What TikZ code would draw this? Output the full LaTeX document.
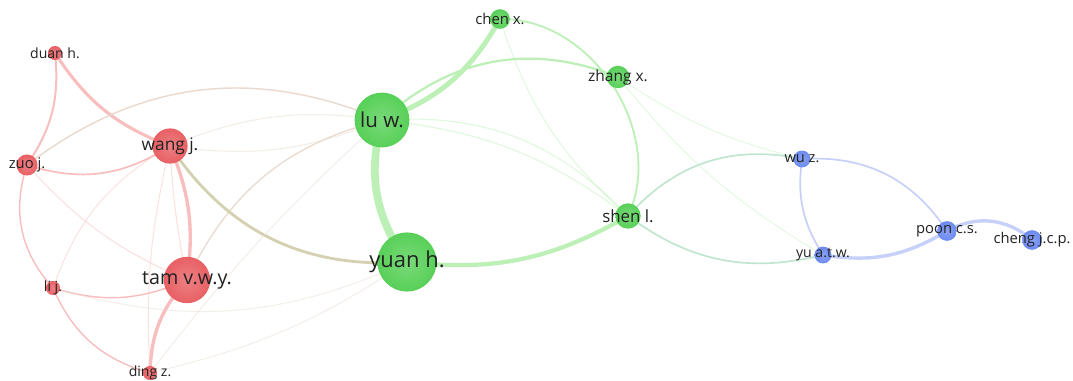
\documentclass[tikz,border=0pt]{standalone}
\usepackage{fontspec}
\setmainfont{Open Sans}
\definecolor{nodered}{RGB}{232,96,100}
\definecolor{nodegreen}{RGB}{88,208,88}
\definecolor{nodeblue}{RGB}{108,138,240}
\definecolor{edgered}{RGB}{248,190,190}
\definecolor{edgegreen}{RGB}{188,240,182}
\definecolor{edgeblue}{RGB}{198,208,248}
\definecolor{edgemix}{RGB}{232,218,206}
\definecolor{edgeolive}{RGB}{212,208,176}
\definecolor{edgeteal}{RGB}{192,230,208}
\definecolor{labelgrey}{RGB}{34,34,34}
\tikzset{
  author/.style={circle, inner sep=0pt, minimum size=#1},
  redauthor/.style={author=#1, shading=radial, inner color=nodered!80!white, outer color=nodered},
  greenauthor/.style={author=#1, shading=radial, inner color=nodegreen!80!white, outer color=nodegreen},
  blueauthor/.style={author=#1, shading=radial, inner color=nodeblue!80!white, outer color=nodeblue},
  lbl/.style={font=\fontsize{#1}{#1}\selectfont, text=labelgrey, inner sep=0pt},
  redlink/.style={draw=edgered, line width=#1},
  greenlink/.style={draw=edgegreen, line width=#1},
  bluelink/.style={draw=edgeblue, line width=#1},
  mixlink/.style={draw=edgemix, line width=#1},
  teallink/.style={draw=edgeteal, line width=#1},
  faint/.style={draw opacity=0.45}
}

\begin{document}
\begin{tikzpicture}[x=0.025cm, y=-0.025cm]
    \fill[white] (0,0) rectangle (1073,381);
    \useasboundingbox (0,0) rectangle (1073,381);

    % Define coordinates
    \coordinate (duan) at (55,53);
    \coordinate (wang) at (170,146);
    \coordinate (zuo) at (27,165);
    \coordinate (li) at (53,288);
    \coordinate (tam) at (187,280);
    \coordinate (ding) at (150,373);
    \coordinate (lu) at (382,120);
    \coordinate (yuan) at (407,262);
    \coordinate (chen) at (500,19);
    \coordinate (zhang) at (618,77);
    \coordinate (shen) at (628,216);
    \coordinate (wu) at (802,159);
    \coordinate (yu) at (823,255);
    \coordinate (poon) at (947,231);
    \coordinate (cheng) at (1032,240);

    % Red cluster links
    \draw[redlink=2.2] (duan) to[bend right=18] (wang);
    \draw[redlink=1.4] (duan) to[bend left=20] (zuo);
    \draw[redlink=1.2] (zuo) to[bend right=25] (wang);
    \draw[redlink=1.0] (zuo) to[bend right=30] (li);
    \draw[redlink=1.0] (li) to[bend right=25] (ding);
    \draw[redlink=2.4] (wang) to[bend left=15] (tam);
    \draw[redlink=0.8, faint] (wang) to[bend right=4] (tam);
    \draw[redlink=2.4] (tam) to[bend right=20] (ding);
    \draw[redlink=1.0] (li) to[bend right=20] (tam);
    \draw[redlink=0.8, faint] (zuo) to[bend right=12] (tam);
    \draw[redlink=0.7, faint] (li) to[bend left=20] (wang);
    \draw[redlink=0.7, faint] (wang) to[bend right=8] (ding);

    % Links between red and green
    \draw[mixlink=1.0] (zuo) to[bend left=30] (lu);
    \draw[mixlink=0.8, faint] (wang) to[bend left=15] (lu);
    \draw[mixlink=0.8, faint] (wang) to[bend right=15] (lu);
    \draw[mixlink=0.9] (tam) to[bend left=25] (lu);
    \draw[mixlink=2.0, draw=edgeolive] (wang) to[bend right=30] (yuan);
    \draw[mixlink=0.7, faint] (li) to[bend right=20] (yuan);
    \draw[mixlink=0.7, faint] (ding) to[bend right=10] (yuan);
    \draw[mixlink=0.7, faint] (ding) to[bend left=5] (lu);

    % Green cluster links
    \draw[greenlink=5.5] (lu) to[bend right=25] (yuan);
    \draw[greenlink=3.5] (lu) to[bend right=20] (chen);
    \draw[greenlink=1.6] (lu) to[bend left=32] (zhang);
    \draw[greenlink=0.8, faint] (lu) to[bend left=15] (shen);
    \draw[greenlink=0.8, faint] (lu) to[bend left=25] (shen);
    \draw[greenlink=3.0] (yuan) to[bend right=18] (shen);
    \draw[greenlink=1.3] (chen) to[bend left=58] (shen);
    \draw[greenlink=0.7, faint] (chen) to[bend right=15] (shen);
    \draw[greenlink=0.6, faint] (zhang) to[bend right=10] (wu);
    \draw[greenlink=0.6, faint] (zhang) to[bend right=10] (yu);

    % Links between green and blue
    \draw[teallink=1.2] (shen) to[bend left=30] (wu);
    \draw[teallink=1.2] (shen) to[bend right=25] (yu);

    % Blue cluster links
    \draw[bluelink=1.2] (wu) to[bend right=20] (yu);
    \draw[bluelink=1.2] (wu) to[bend left=30] (poon);
    \draw[bluelink=2.4] (yu) to[bend right=20] (poon);
    \draw[bluelink=2.4] (poon) to[bend left=35] (cheng);

    % Authors
    \node[redauthor=10] (duandot) at (duan) {};
    \node[redauthor=25] (wangdot) at (wang) {};
    \node[redauthor=15] (zuodot) at (zuo) {};
    \node[redauthor=10] (lidot) at (li) {};
    \node[redauthor=33] (tamdot) at (tam) {};
    \node[redauthor=10] (dingdot) at (ding) {};
    \node[greenauthor=39] (ludot) at (lu) {};
    \node[greenauthor=42] (yuandot) at (yuan) {};
    \node[greenauthor=14] (chendot) at (chen) {};
    \node[greenauthor=16] (zhangdot) at (zhang) {};
    \node[greenauthor=18] (shendot) at (shen) {};
    \node[blueauthor=12] (wudot) at (wu) {};
    \node[blueauthor=12] (yudot) at (yu) {};
    \node[blueauthor=14] (poondot) at (poon) {};
    \node[blueauthor=14] (chengdot) at (cheng) {};

    % Labels
    \node[lbl=10] (duanname) at (duan) {duan h.};
    \node[lbl=12.3] (wangname) at (wang) {wang j.};
    \node[lbl=10.5] (zuoname) at (zuo) {zuo j.};
    \node[lbl=10] (liname) at (li) {li j.};
    \node[lbl=14] (tamname) at (tam) {tam v.w.y.};
    \node[lbl=10] (dingname) at (ding) {ding z.};
    \node[lbl=14.6] (luname) at (lu) {lu w.};
    \node[lbl=15.6] (yuanname) at (yuan) {yuan h.};
    \node[lbl=10.6] (chenname) at (chen) {chen x.};
    \node[lbl=11] (zhangname) at (zhang) {zhang x.};
    \node[lbl=12] (shenname) at (shen) {shen l.};
    \node[lbl=10.4] (wuname) at (wu) {wu z.};
    \node[lbl=10] (yuname) at (yu) {yu a.t.w.};
    \node[lbl=10.5] (poonname) at (poon) {poon c.s.};
    \node[lbl=10.5] (chengname) at (cheng) {cheng j.c.p.};
\end{tikzpicture}
\end{document}
